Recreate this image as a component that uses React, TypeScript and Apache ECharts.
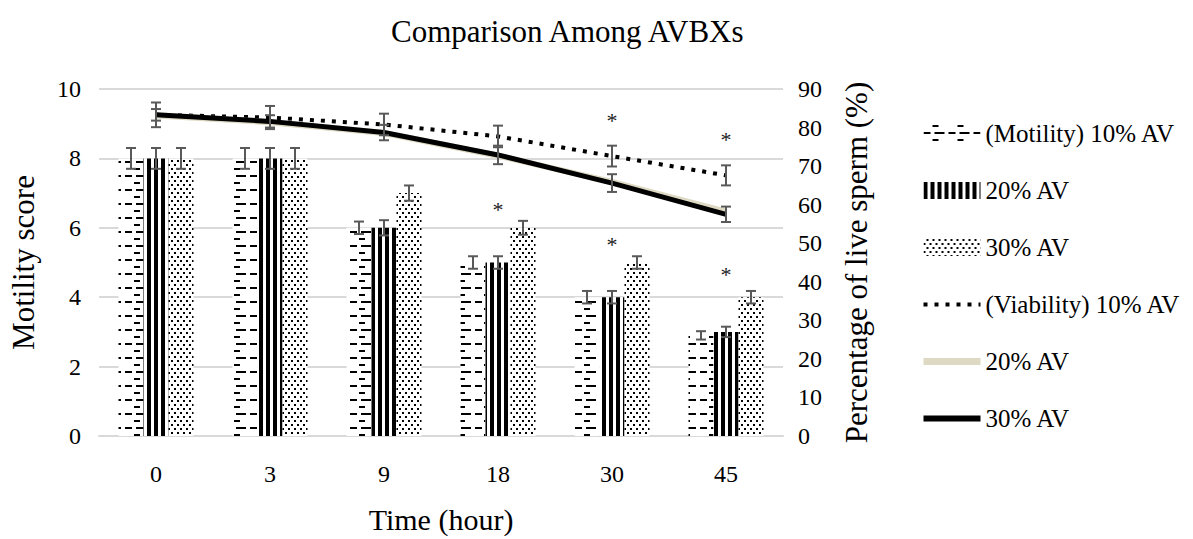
import React, { useEffect, useRef } from "react";
import * as echarts from "echarts";

const categories = ["0", "3", "9", "18", "30", "45"];
const seriesIds = ["m10", "m20", "m30", "v10", "v20", "v30"];
const legendLabels = ["(Motility) 10% AV", "20% AV", "30% AV", "(Viability) 10% AV", "20% AV", "30% AV"];

const motility10 = [8, 8, 6, 5, 4, 2.9];
const motility20 = [8, 8, 6, 5, 4, 3];
const motility30 = [8, 8, 7, 6, 5, 4];
const motility10Err = [0.3, 0.3, 0.18, 0.18, 0.18, 0.12];
const motility20Err = [0.3, 0.3, 0.22, 0.18, 0.18, 0.15];
const motility30Err = [0.3, 0.3, 0.22, 0.2, 0.18, 0.18];

const viability10 = [83.3, 82.6, 80.8, 77.7, 72.6, 67.6];
const viability20 = [83.1, 81.4, 78.6, 72.7, 65.9, 58.2];
const viability30 = [83.3, 81.6, 78.7, 72.9, 65.6, 57.5];
const viability10Err = [3.2, 3, 2.8, 2.8, 2.7, 2.6];
const viability30Err = [1.5, 1.6, 2, 2.4, 2.3, 2];

// significance marks: category index and position on the motility axis
const asteriskCats = [3, 4, 5, 4, 5];
const asteriskVals = [6.66, 5.66, 4.8, 9.25, 8.7];

const FONT = "Liberation Serif";
const BAR_W = 25;
const ERR_COLOR = "#595959";

function errSeries(name: string, vals: number[], errs: number[], slot: number, yAxisIndex: number) {
  return {
    type: "custom",
    name,
    yAxisIndex,
    z: 10,
    silent: true,
    data: vals.map((v, i) => [i, v, errs[i]]),
    renderItem: (_params: any, api: any) => {
      const i = api.value(0);
      const v = api.value(1);
      const e = api.value(2);
      const top = api.coord([i, v + e]);
      const bot = api.coord([i, v - e]);
      const x = top[0] + slot * BAR_W;
      const hw = 5;
      const st = { stroke: ERR_COLOR, lineWidth: 2 };
      return {
        type: "group",
        children: [
          { type: "line", shape: { x1: x, y1: top[1], x2: x, y2: bot[1] }, style: st },
          { type: "line", shape: { x1: x - hw, y1: top[1], x2: x + hw, y2: top[1] }, style: st },
          { type: "line", shape: { x1: x - hw, y1: bot[1], x2: x + hw, y2: bot[1] }, style: st },
        ],
      };
    },
  };
}

export default function App() {
  const ref = useRef<HTMLDivElement>(null);
  useEffect(() => {
    if (!ref.current) return;
    const chart = echarts.init(ref.current, undefined, { renderer: "svg" });
    const labelMap: Record<string, string> = {};
    seriesIds.forEach((id, i) => (labelMap[id] = legendLabels[i]));
    const hiddenSymbol = { opacity: 0 };

    const option: any = {
      animation: false,
      backgroundColor: "#fff",
      textStyle: { fontFamily: FONT },
      title: {
        text: "Comparison Among AVBXs",
        left: 386,
        top: 11,
        textStyle: { fontFamily: FONT, fontSize: 31, fontWeight: "normal", color: "#000" },
      },
      grid: { left: 95, right: 410, top: 89, bottom: 98 },
      legend: {
        orient: "vertical",
        left: 915,
        top: 116,
        itemWidth: 57,
        itemHeight: 17,
        itemGap: 32,
        formatter: (name: string) => labelMap[name] || name,
        textStyle: { fontFamily: FONT, fontSize: 25, color: "#000", lineHeight: 25 },
        data: [
          { name: "m10", icon: "rect" },
          { name: "m20", icon: "rect" },
          { name: "m30", icon: "rect" },
          { name: "v10", itemStyle: hiddenSymbol, lineStyle: { width: 4, type: [4, 7] } },
          { name: "v20", itemStyle: hiddenSymbol, lineStyle: { width: 7 } },
          { name: "v30", itemStyle: hiddenSymbol, lineStyle: { width: 6 } },
        ],
      },
      xAxis: {
        type: "category",
        data: categories,
        name: "Time (hour)",
        nameLocation: "middle",
        nameGap: 68,
        nameTextStyle: { fontFamily: FONT, fontSize: 30, color: "#000" },
        axisLine: { lineStyle: { color: "#d9d9d9", width: 2 } },
        axisTick: { show: false },
        axisLabel: { fontFamily: FONT, fontSize: 24, color: "#000", margin: 26 },
      },
      yAxis: [
        {
          type: "value",
          min: 0,
          max: 10,
          interval: 2,
          name: "Motility score",
          nameLocation: "middle",
          nameGap: 60,
          nameRotate: 90,
          nameTextStyle: { fontFamily: FONT, fontSize: 31, color: "#000" },
          axisLine: { show: false },
          axisTick: { show: false },
          axisLabel: { fontFamily: FONT, fontSize: 24, color: "#000", margin: 18 },
          splitLine: { lineStyle: { color: "#d9d9d9", width: 2 } },
        },
        {
          type: "value",
          min: 0,
          max: 90,
          interval: 10,
          position: "right",
          name: "Percentage of live sperm (%)",
          nameLocation: "middle",
          nameGap: 58,
          nameRotate: 90,
          nameTextStyle: { fontFamily: FONT, fontSize: 31, color: "#000" },
          axisLine: { show: false },
          axisTick: { show: false },
          axisLabel: { fontFamily: FONT, fontSize: 24, color: "#000", margin: 15 },
          splitLine: { show: false },
        },
      ],
      series: [
        {
          type: "bar",
          name: "m10",
          yAxisIndex: 0,
          barWidth: BAR_W,
          barGap: "0%",
          data: motility10,
          itemStyle: {
            color: "#fff",
            decal: { symbol: "rect", symbolSize: 1, color: "#000", dashArrayX: [[7, 4, 10, 4], [0, 9, 6, 10]], dashArrayY: [2, 5] },
          },
        },
        {
          type: "bar",
          name: "m20",
          yAxisIndex: 0,
          barWidth: BAR_W,
          barGap: "0%",
          data: motility20,
          itemStyle: {
            color: "#fff",
            decal: { symbol: "rect", symbolSize: 1, color: "#000", dashArrayX: [4, 3], dashArrayY: [6, 0] },
          },
        },
        {
          type: "bar",
          name: "m30",
          yAxisIndex: 0,
          barWidth: BAR_W,
          barGap: "0%",
          data: motility30,
          itemStyle: {
            color: "#fff",
            decal: { symbol: "rect", symbolSize: 1, color: "#000", dashArrayX: [[2, 4], [0, 3, 2, 1]], dashArrayY: [2, 2] },
          },
        },
        {
          type: "line",
          name: "v10",
          yAxisIndex: 1,
          data: viability10,
          symbol: "none",
          z: 4,
          lineStyle: { color: "#000", width: 4, type: [4, 7] },
          itemStyle: { color: "#000" },
        },
        {
          type: "line",
          name: "v20",
          yAxisIndex: 1,
          data: viability20,
          symbol: "none",
          z: 4,
          lineStyle: { color: "#ddd9c3", width: 6 },
          itemStyle: { color: "#ddd9c3" },
        },
        {
          type: "line",
          name: "v30",
          yAxisIndex: 1,
          data: viability30,
          symbol: "none",
          z: 4,
          lineStyle: { color: "#000", width: 5 },
          itemStyle: { color: "#000" },
        },
        errSeries("e_m10", motility10, motility10Err, -1, 0),
        errSeries("e_m20", motility20, motility20Err, 0, 0),
        errSeries("e_m30", motility30, motility30Err, 1, 0),
        errSeries("e_v10", viability10, viability10Err, 0, 1),
        errSeries("e_v30", viability30, viability30Err, 0, 1),
        {
          type: "custom",
          name: "asterisks",
          yAxisIndex: 0,
          z: 11,
          silent: true,
          data: asteriskCats.map((c, i) => [c, asteriskVals[i]]),
          renderItem: (_p: any, api: any) => {
            const pt = api.coord([api.value(0), api.value(1)]);
            return {
              type: "text",
              x: pt[0],
              y: pt[1] + 5,
              style: {
                text: "*",
                fontFamily: FONT,
                fontSize: 22,
                fill: "#222",
                align: "center",
                verticalAlign: "middle",
              },
            };
          },
        },
      ],
    };
    chart.setOption(option);
    return () => chart.dispose();
  }, []);
  return (
    <div
      ref={ref}
      style={{ position: "fixed", left: 0, top: 0, width: 1193, height: 539 }}
    />
  );
}
